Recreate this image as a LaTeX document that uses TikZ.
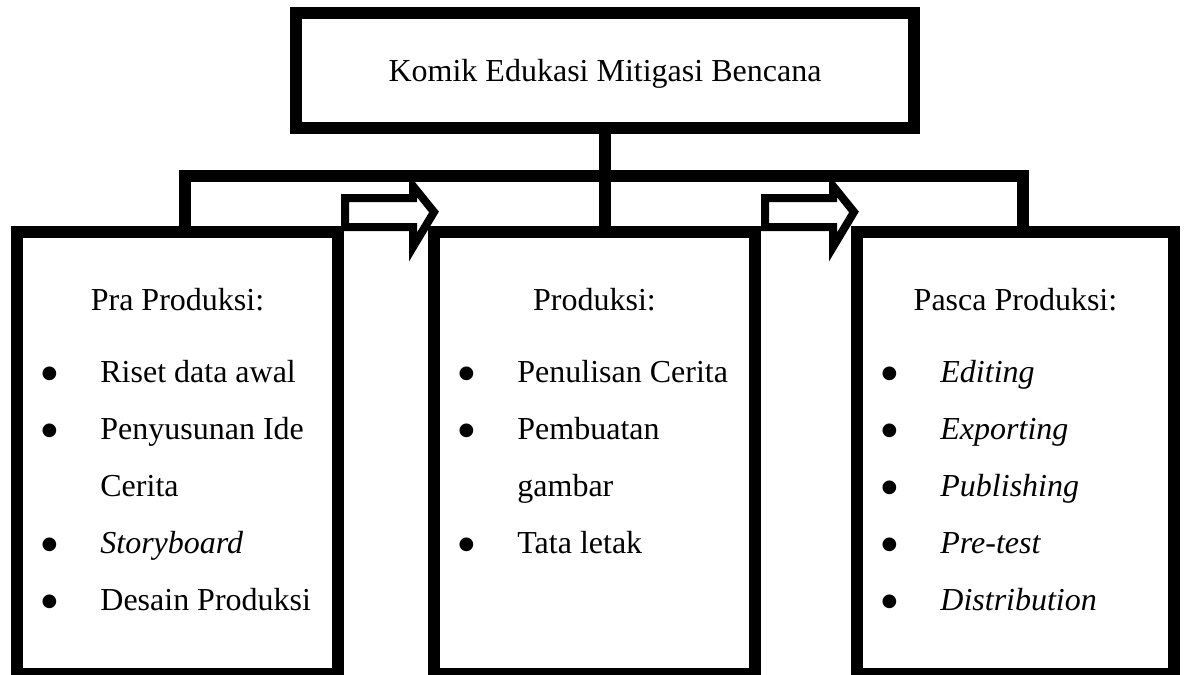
\documentclass[tikz,border=0pt]{standalone}
\usepackage{fontspec}
\setmainfont{Liberation Serif}
\newfontfamily\bulfont{DejaVu Sans}
\usepackage{tikz}
\usetikzlibrary{
calc,
positioning
}

\newcommand{\bul}{\raisebox{2pt}{\bulfont\fontsize{9}{9}\selectfont ●}}
\newcommand{\itm}[1]{\makebox[0pt]{\bul}\hspace{25.5pt}#1}
\newcommand{\cont}[1]{\hspace{25.5pt}#1}

\begin{document}
\begin{tikzpicture}[
  x=0.5pt, y=-0.5pt,
  every node/.style={font=\fontsize{16}{28.5}\selectfont},
  box/.style={draw, line width=5.75pt, outer sep=0pt, inner sep=0pt,
              minimum width=160.5pt, minimum height=220.75pt},
  title/.style={anchor=base, inner sep=0pt},
  list/.style={anchor=base west, inner sep=0pt},
  link/.style={line width=5.75pt},
  blockarrow/.style={line width=4pt, line join=miter}
]
\useasboundingbox (0,0) rectangle (1184,675);

%% Top: theme of the comic
\node[box, minimum width=309pt, minimum height=57.5pt, text depth=0pt]
  (top) at (605,70.5) {Komik Edukasi Mitigasi Bencana};

%% Stage boxes
\node[box] (pra) at (177.5,452.75) {};
\node[box] (prod) at (594.5,452.75) {};
\node[box, minimum width=158.5pt] (pasca) at (1015.5,452.75) {};

%% Titles of the stages
\node[title] (praT) at ($(pra.north)+(0,78)$) {Pra Produksi:};
\node[title] (prodT) at ($(prod.north)+(0,78)$) {Produksi:};
\node[title] (pascaT) at ($(pasca.north)+(0,78)$) {Pasca Produksi:};

%% Lists of the stages
\node[list] (praL) at ($(pra.north west)+(32,150)$)
  {\begin{tabular}[t]{@{}l@{}}
   \itm{Riset data awal}\\
   \itm{Penyusunan Ide}\\
   \cont{Cerita}\\
   \itm{\textit{Storyboard}}\\
   \itm{Desain Produksi}
   \end{tabular}};
\node[list] (prodL) at ($(prod.north west)+(32,150)$)
  {\begin{tabular}[t]{@{}l@{}}
   \itm{Penulisan Cerita}\\
   \itm{Pembuatan}\\
   \cont{gambar}\\
   \itm{Tata letak}
   \end{tabular}};
\node[list] (pascaL) at ($(pasca.north west)+(32,150)$)
  {\begin{tabular}[t]{@{}l@{}}
   \itm{\textit{Editing}}\\
   \itm{\textit{Exporting}}\\
   \itm{\textit{Publishing}}\\
   \itm{\textit{Pre-test}}\\
   \itm{\textit{Distribution}}
   \end{tabular}};

%% Connectors
\coordinate (barL) at ($(pra.north)+(7.5,-56)$);
\coordinate (barR) at ($(pasca.north)+(7.5,-56)$);
\draw[link] (top.south) -- (top.south |- prod.north);
\draw[link] (barL |- pra.north) -- (barL) -- (barR) -- (barR |- pasca.north);

%% Block arrows between the stages
\draw[blockarrow] (345,198) -- (413,198) -- (413,186) -- (434,212)
  -- (413,247) -- (413,227) -- (345,227) -- cycle;
\draw[blockarrow] (765,198) -- (833,198) -- (833,186) -- (854,212)
  -- (833,247) -- (833,227) -- (765,227) -- cycle;

\end{tikzpicture}
\end{document}
